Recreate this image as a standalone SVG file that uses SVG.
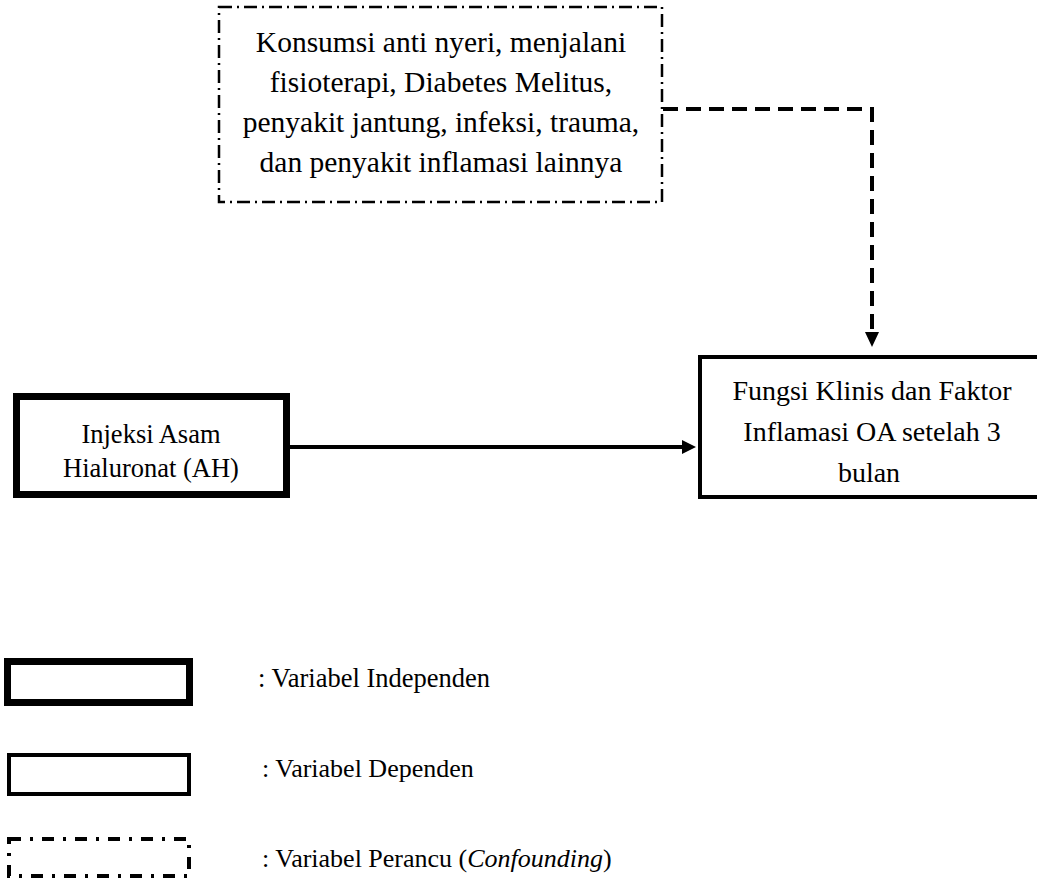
<svg xmlns="http://www.w3.org/2000/svg" width="1037" height="887" viewBox="0 0 1037 887">
  <style>
    text { fill: #000; }
    .c { text-anchor: middle; }
    .box { fill: #fff; stroke: #000; }
    .indep { stroke-width: 7; }
    .dep { stroke-width: 4; }
    .conf { stroke-width: 2.5; stroke-dasharray: 13 5 2 5; }
    .conf-key { stroke-width: 4; stroke-dasharray: 12 9 3 9; }
    .link { fill: none; stroke: #000; stroke-width: 4; }
    .dashed { stroke-dasharray: 15 8; }
  </style>
  <rect width="1037" height="887" fill="#fff"/>

  <!-- connectors -->
  <g id="connectors">
    <path class="link" d="M290,447 H684"/>
    <path d="M682,440 L696,447 L682,454 Z" fill="#000"/>
    <path class="link dashed" d="M663,109 H872 V334"/>
    <path d="M865,332 L872,347 L879,332 Z" fill="#000"/>
  </g>

  <!-- confounding factors -->
  <g id="confounding" font-family="Liberation Serif, DejaVu Serif, serif">
    <rect class="box conf" x="219" y="7" width="443" height="195"/>
    <text class="c" x="441" y="52" font-size="29.5">Konsumsi anti nyeri, menjalani</text>
    <text class="c" x="441" y="92" font-size="29.5">fisioterapi, Diabetes Melitus,</text>
    <text class="c" x="441" y="132" font-size="29.5">penyakit jantung, infeksi, trauma,</text>
    <text class="c" x="441" y="172" font-size="29.5">dan penyakit inflamasi lainnya</text>
  </g>

  <!-- independent variable -->
  <g id="independent" font-family="Liberation Serif, DejaVu Serif, serif">
    <rect class="box indep" x="16.5" y="396.5" width="270" height="98"/>
    <text class="c" x="151" y="443" font-size="26.5">Injeksi Asam</text>
    <text class="c" x="151" y="477" font-size="26.5">Hialuronat (AH)</text>
  </g>

  <!-- dependent variable -->
  <g id="dependent" font-family="Liberation Serif, DejaVu Serif, serif">
    <rect class="box dep" x="700" y="357" width="360" height="140"/>
    <text class="c" x="872" y="400" font-size="28">Fungsi Klinis dan Faktor</text>
    <text class="c" x="872" y="441" font-size="28">Inflamasi OA setelah 3</text>
    <text class="c" x="869" y="482" font-size="28">bulan</text>
  </g>

  <!-- legend -->
  <g id="legend" font-family="Liberation Serif, DejaVu Serif, serif">
    <rect class="box indep" x="7.5" y="661.5" width="182" height="41"/>
    <text x="258" y="687" font-size="26.5">: Variabel Independen</text>
    <rect class="box dep" x="9" y="755" width="180" height="39"/>
    <text x="262" y="777" font-size="26">: Variabel Dependen</text>
    <rect class="box conf-key" x="9" y="839" width="180" height="37"/>
    <text x="262" y="867" font-size="26">: Variabel Perancu (<tspan font-style="italic">Confounding</tspan>)</text>
  </g>
</svg>
